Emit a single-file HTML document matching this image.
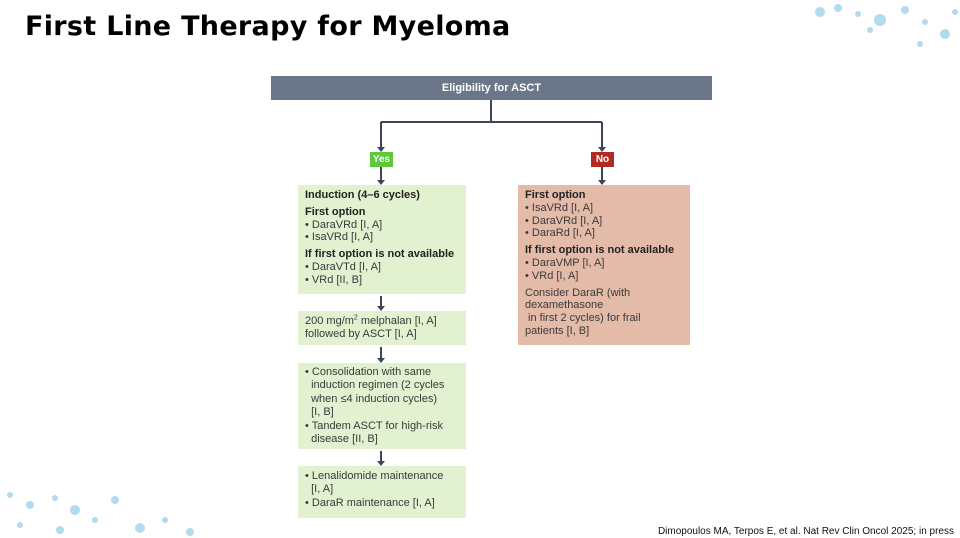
<!DOCTYPE html>
<html><head><meta charset="utf-8"><style>
body{margin:0;width:960px;height:538px;background:#fff;position:relative;overflow:hidden;font-family:"Liberation Sans",sans-serif;}
.t{position:absolute;left:25px;top:11px;font-size:27px;font-weight:bold;color:#000;font-family:"DejaVu Sans",sans-serif;letter-spacing:0.3px;}
.box{position:absolute;font-size:11px;line-height:12.8px;color:#3a3a3a;padding:4px 7px;box-sizing:border-box;white-space:nowrap;}
.g{background:#e2f1d0;left:298px;width:168px;}
.p{background:#e4bba9;left:518px;width:172px;}
b{color:#222;}
.ref{position:absolute;right:6px;top:526px;font-size:10px;color:#111;}
</style></head><body>
<div class="t">First Line Therapy for Myeloma</div>
<div style="position:absolute;left:271px;top:76px;width:441px;height:24px;background:#6b7689;color:#fff;font-size:11px;font-weight:bold;text-align:center;line-height:24px">Eligibility for ASCT</div>
<svg style="position:absolute;left:0;top:0" width="960" height="538">
<g stroke="#3b4657" stroke-width="2" fill="none">
<path d="M491 100V122M381 122H602M381 122V150M602 122V150M381 167V183M602 167V183M381 296V309M381 347V361M381 451V464"/>
</g>
<g fill="#3b4657">
<path d="M377 147h8l-4 5z"/><path d="M598 147h8l-4 5z"/>
<path d="M377 180h8l-4 5z"/><path d="M598 180h8l-4 5z"/>
<path d="M377 306h8l-4 5z"/><path d="M377 358h8l-4 5z"/><path d="M377 461h8l-4 5z"/>
</g>
<g fill="#9fd3ec" opacity="0.8">
<circle cx="820" cy="12" r="5"/><circle cx="838" cy="8" r="4"/><circle cx="858" cy="14" r="3"/><circle cx="880" cy="20" r="6"/><circle cx="905" cy="10" r="4"/><circle cx="925" cy="22" r="3"/><circle cx="945" cy="34" r="5"/><circle cx="955" cy="12" r="3"/><circle cx="870" cy="30" r="3"/><circle cx="920" cy="44" r="3"/>
<circle cx="10" cy="495" r="3"/><circle cx="30" cy="505" r="4"/><circle cx="55" cy="498" r="3"/><circle cx="75" cy="510" r="5"/><circle cx="95" cy="520" r="3"/><circle cx="115" cy="500" r="4"/><circle cx="140" cy="528" r="5"/><circle cx="165" cy="520" r="3"/><circle cx="190" cy="532" r="4"/><circle cx="20" cy="525" r="3"/><circle cx="60" cy="530" r="4"/>
</g>
</svg>
<div style="position:absolute;left:370px;top:152px;width:23px;height:15px;background:#5cc83a;color:#fff;font-size:10px;font-weight:bold;text-align:center;line-height:15px">Yes</div>
<div style="position:absolute;left:591px;top:152px;width:23px;height:15px;background:#b22a22;color:#fff;font-size:10px;font-weight:bold;text-align:center;line-height:15px">No</div>
<div class="box g" style="top:185px;height:109px">
<b>Induction (4–6 cycles)</b><div style="height:4px"></div>
<b>First option</b><div>• DaraVRd [I, A]</div><div>• IsaVRd [I, A]</div><div style="height:4px"></div>
<b>If first option is not available</b><div>• DaraVTd [I, A]</div><div>• VRd [II, B]</div>
</div>
<div class="box g" style="top:311px;height:34px;padding-top:4px">200 mg/m<sup style="font-size:7px;line-height:0">2</sup> melphalan [I, A]<br>followed by ASCT [I, A]</div>
<div class="box g" style="top:363px;height:86px;line-height:13.4px;padding-top:3px">
<div>• Consolidation with same<br>&nbsp;&nbsp;induction regimen (2 cycles<br>&nbsp;&nbsp;when ≤4 induction cycles)<br>&nbsp;&nbsp;[I, B]</div>
<div>• Tandem ASCT for high-risk<br>&nbsp;&nbsp;disease [II, B]</div>
</div>
<div class="box g" style="top:466px;height:52px;line-height:13.4px;padding-top:4px">
<div>• Lenalidomide maintenance<br>&nbsp;&nbsp;[I, A]</div>
<div>• DaraR maintenance [I, A]</div>
</div>
<div class="box p" style="top:185px;height:160px">
<b>First option</b><div>• IsaVRd [I, A]</div><div>• DaraVRd [I, A]</div><div>• DaraRd [I, A]</div><div style="height:4px"></div>
<b>If first option is not available</b><div>• DaraVMP [I, A]</div><div>• VRd [I, A]</div><div style="height:4px"></div>
<div>Consider DaraR (with<br>dexamethasone<br>&nbsp;in first 2 cycles) for frail<br>patients [I, B]</div>
</div>
<div class="ref">Dimopoulos MA, Terpos E, et al. Nat Rev Clin Oncol 2025; in press</div>
</body></html>
